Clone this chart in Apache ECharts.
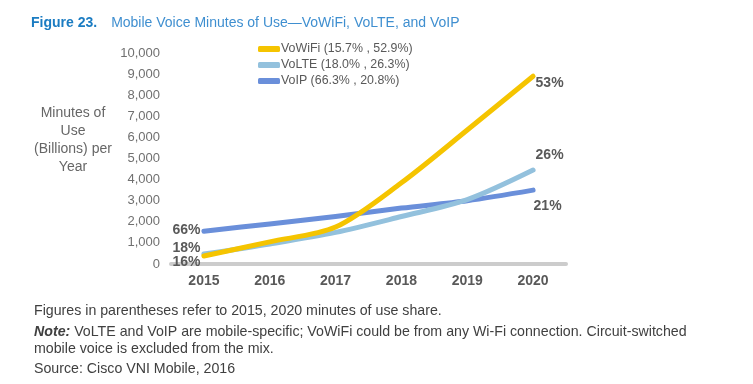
<!DOCTYPE html>
<html><head><meta charset="utf-8">
<script src="https://cdn.jsdelivr.net/npm/echarts@6/dist/echarts.min.js"></script>
<style>html,body{margin:0;padding:0;background:#fff}#c{width:753px;height:384px}</style>
</head><body><div id="c"></div>
<script>
var years = ['2015','2016','2017','2018','2019','2020'];
var seriesNames = ['VoWiFi (15.7% , 52.9%)','VoLTE (18.0% , 26.3%)','VoIP (66.3% , 20.8%)'];
var vowifi = [380, 1050, 1750, 3850, 6350, 8900];
var volte = [470, 950, 1500, 2250, 3050, 4450];
var voip = [1550, 1900, 2250, 2650, 3000, 3500];
var startShare = ['16%', '18%', '66%'];
var endShare = ['53%', '26%', '21%'];
var yTicks = [0, 1000, 2000, 3000, 4000, 5000, 6000, 7000, 8000, 9000, 10000];

var colors = ['#F5C400', '#93C1DD', '#6A8FDA'];
var startOff = [[0, 6], [0, -6], [0, -1]];
var endOff = [[0, 7], [0, -15], [-2, 16]];
var FONT = 'Liberation Sans, Arial, sans-serif';
var lblStyle = {color: '#595959', fontWeight: 'bold', fontSize: 14, fontFamily: FONT};

function build(vals, i) {
  return vals.map(function (v, k) {
    var o = {value: v};
    if (k === 0) {
      o.label = Object.assign({show: true, position: 'left', distance: 3, formatter: startShare[i], offset: startOff[i]}, lblStyle);
    } else if (k === vals.length - 1) {
      o.label = Object.assign({show: true, position: 'right', distance: 2, formatter: endShare[i], offset: endOff[i]}, lblStyle);
    }
    return o;
  });
}
var allVals = [vowifi, volte, voip];
var series = allVals.map(function (vals, i) {
  return {
    name: seriesNames[i], type: 'line', smooth: 0.3, showSymbol: true, symbol: 'circle', symbolSize: 1,
    data: build(vals, i), z: 10 - i,
    label: {show: false},
    lineStyle: {width: 5, color: colors[i], cap: 'round', join: 'round'},
    itemStyle: {color: colors[i]}
  };
});

var noteFont = '14.2px "Liberation Sans", Arial, sans-serif';
var chart = echarts.init(document.getElementById('c'), null, {renderer: 'canvas'});
chart.setOption({
  animation: false,
  backgroundColor: '#fff',
  title: {
    text: '{a|Figure 23.}{b|Mobile Voice Minutes of Use\u2014VoWiFi, VoLTE, and VoIP}',
    left: 26, top: 11,
    textStyle: {
      fontWeight: 'normal',
      rich: {
        a: {fontFamily: FONT, fontWeight: 'bold', fontSize: 14, color: '#1B7CC2'},
        b: {fontFamily: FONT, fontWeight: 'normal', fontSize: 14, color: '#3F8FD0', padding: [0, 0, 0, 14]}
      }
    }
  },
  legend: {
    orient: 'vertical', left: 253, top: 38, itemGap: 4,
    icon: 'roundRect', itemWidth: 22, itemHeight: 6,
    textStyle: {fontFamily: FONT, fontSize: 12.4, color: '#595959', padding: [0, 0, 0, -4]},
    data: seriesNames
  },
  grid: {left: 171, right: 187, top: 53, bottom: 120, containLabel: false},
  xAxis: {
    type: 'category', data: years, boundaryGap: true,
    axisLine: {lineStyle: {color: '#CCCCCC', width: 4}},
    axisTick: {show: false},
    axisLabel: {color: '#595959', fontWeight: 'bold', fontSize: 14, fontFamily: FONT, margin: 10}
  },
  yAxis: {
    type: 'value', min: yTicks[0], max: yTicks[yTicks.length - 1], interval: 1000,
    axisLine: {show: false}, axisTick: {show: false}, splitLine: {show: false},
    axisLabel: {color: '#707070', fontSize: 13, fontFamily: FONT, margin: 11,
      formatter: function (v) { return v.toLocaleString('en-US'); }}
  },
  graphic: [
    {type: 'text', x: 73, y: 104, style: {text: 'Minutes of\nUse\n(Billions) per\nYear', align: 'center', lineHeight: 18,
      font: '14px "Liberation Sans", Arial, sans-serif', fill: '#666666'}},
    {type: 'text', x: 34, y: 304, style: {text: 'Figures in parentheses refer to 2015, 2020 minutes of use share.',
      font: noteFont, fill: '#404040'}},
    {type: 'text', x: 34, y: 324, style: {
      text: '{n|Note:} VoLTE and VoIP are mobile-specific; VoWiFi could be from any Wi-Fi connection. Circuit-switched\nmobile voice is excluded from the mix.',
      font: noteFont, fill: '#404040', lineHeight: 17,
      rich: {n: {fontStyle: 'italic', fontWeight: 'bold', fontSize: 14.2, fontFamily: FONT, fill: '#404040'}}}},
    {type: 'text', x: 34, y: 362, style: {text: 'Source: Cisco VNI Mobile, 2016',
      font: noteFont, fill: '#404040'}}
  ],
  series: series
});
</script></body></html>
